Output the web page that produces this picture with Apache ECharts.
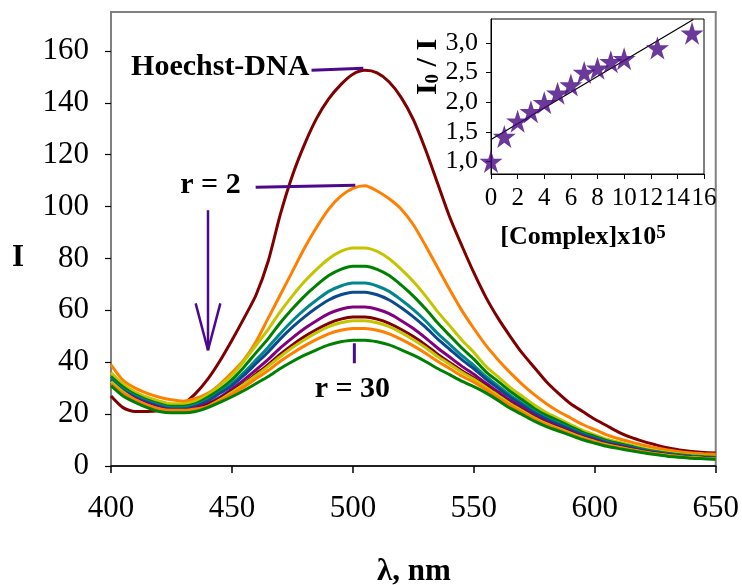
<!DOCTYPE html>
<html><head><meta charset="utf-8">
<script src="https://cdn.jsdelivr.net/npm/echarts@6/dist/echarts.min.js"></script>
<style>html,body{margin:0;padding:0;background:#fff}#c{width:742px;height:585px}</style>
</head><body><div id="c"></div>
<script>
const wavelength=[400,405,410,415,420,425,430,435,440,445,450,455,460,465,470,475,480,485,490,495,500,505,510,515,520,525,530,535,540,545,550,555,560,565,570,575,580,585,590,595,600,605,610,615,620,625,630,635,640,645,650];
const hoechstDNA=[27,22.5,21,21,21.3,22,24,28,33.5,40.5,48.5,57,66,79,97,112,124,134,141.5,147,151,152.5,151.5,148,142,133.5,122,109,96,85,74.5,65,57,50,43.5,38,32.5,28,24,21,18,15.5,13,11,9.5,8.2,7,6.2,5.6,5.2,5];
const r2Orange=[39,33,30,28,26.5,25.5,25,26,28,31.5,36,41,48,57,66,75,84,92,99,104,107,108,106,103,99,93,85,76.5,68,60,53,46.5,41,36,31.5,27.5,24,21,18.5,16,14,12,10.5,9.2,8,7,6.2,5.5,5,4.7,4.5];
const yellow1=[36,31.5,28.5,26.5,25,24,24,25,27.5,31,35,40.4,46.6,52.7,59.5,65.6,71.1,75.8,79.9,82.7,84,84,82.7,79.9,75.8,71.1,65.6,59.5,54.1,48.6,43.8,38.4,34.4,30.3,26.9,23.5,20.6,18.3,16,13.7,12,10.3,9.2,8,6.9,6,5.2,4.6,4.1,3.8,3.5];
const green1=[34.5,30.5,27.5,25.5,24,23,23,24,26.5,29.5,33.3,38.2,43.7,49.1,55.2,60.6,65.5,69.7,73.4,75.8,77,77,75.8,73.4,69.7,65.5,60.6,55.2,50.3,45.5,41.2,36.3,32.6,28.8,25.5,22.2,19.5,17.4,15.2,13,11.4,9.8,8.7,7.6,6.5,5.6,4.9,4.3,3.9,3.6,3.4];
const teal=[33.5,29.5,27,25,23.5,22.5,22.5,23.5,25.5,28.5,31.8,36.1,40.9,45.8,51.1,56,60.3,64,67.3,69.4,70.5,70.5,69.4,67.3,64,60.3,56,51.1,46.9,42.6,38.8,34.5,30.9,27.3,24.2,21.1,18.5,16.5,14.4,12.4,10.8,9.3,8.2,7.2,6.2,5.4,4.6,4.1,3.7,3.4,3.2];
const navy=[33,29,26.5,24.5,23,22,22,23,25,28,31,35,39.5,44,49,53.5,57.5,61,64,66,67,67,66,64,61,57.5,53.5,49,45,41,37.5,33.5,30,26.5,23.5,20.5,18,16,14,12,10.5,9,8,7,6,5.2,4.5,4,3.6,3.3,3.1];
const purple=[32,28.5,26,24,22.5,21.5,21.5,22.5,24,26.5,29.7,33.2,37.1,41.1,45.5,49.4,53,56,58.7,60.4,61.3,61.3,60.4,58.7,56,53,49.4,45.5,42,38.5,35.4,31.9,28.6,25.2,22.4,19.5,17.1,15.2,13.3,11.4,10,8.6,7.6,6.7,5.7,5,4.3,3.8,3.4,3.1,3];
const darkRed2=[31.5,28,25.5,23.5,22,21.5,21.5,22,23.5,26,28.8,31.9,35.5,39.1,43.1,46.7,49.9,52.6,55,56.6,57.4,57.4,56.6,55,52.6,49.9,46.7,43.1,39.9,36.7,33.9,30.8,27.5,24.3,21.6,18.8,16.5,14.7,12.9,11,9.6,8.3,7.3,6.4,5.5,4.8,4.1,3.7,3.3,3,2.8];
const yellow2=[32.5,28.5,25.5,23.5,22,21,21,21.5,23,25.5,28.4,31.5,34.9,38.4,42.2,45.7,48.7,51.4,53.7,55.2,56,56,55.2,53.7,51.4,48.7,45.7,42.2,39.2,36.1,33.4,30.4,27.2,24,21.3,18.6,16.3,14.5,12.7,10.9,9.5,8.2,7.2,6.3,5.4,4.7,4.1,3.6,3.3,3,2.8];
const orange2=[31.5,28,25.5,23.5,22,21.5,21.5,22,23,25,27.7,30.5,33.7,36.8,40.4,43.5,46.3,48.8,50.9,52.3,53,53,52.3,50.9,48.8,46.3,43.5,40.4,37.6,34.7,32.3,29.5,26.4,23.3,20.7,18.1,15.9,14.1,12.3,10.6,9.3,7.9,7,6.2,5.3,4.6,4,3.5,3.2,2.9,2.7];
const green2=[31,27,24.5,22.5,21,20.5,20.5,21,22.5,24.5,26.7,29.1,31.8,34.5,37.6,40.3,42.7,44.8,46.7,47.9,48.5,48.5,47.9,46.7,44.8,42.7,40.3,37.6,35.2,32.7,30.6,28.2,25.3,22.3,19.8,17.3,15.2,13.5,11.8,10.1,8.8,7.6,6.7,5.9,5.1,4.4,3.8,3.4,3,2.8,2.6];
const curveNames=['Hoechst-DNA','r=2','c3','c4','c5','c6','c7','c8','c9','c10','r=30'];
const curveColors=['#800000','#FF8000','#C4C400','#008000','#00868B','#0B4A8C','#800080','#800000','#C4C400','#FF8000','#008000'];
const curves=[hoechstDNA,r2Orange,yellow1,green1,teal,navy,purple,darkRed2,yellow2,orange2,green2];
const yTicks=[0,20,40,60,80,100,120,140,160];
// inset
const complexConc=[0,1,2,3,4,5,6,7,8,9,10,12.5,15.1];
const ratioI0I=[1.0,1.42,1.68,1.84,1.99,2.15,2.29,2.50,2.57,2.68,2.73,2.91,3.16];
const fitX=[0,15.2];
const fitY=[1.37,3.39];
const insetYTicks=[1,1.5,2,2.5,3];
// annotations (data coords of main plot)
const hoechstLine=[[482.9,152.5],[504.3,153.3]];
const r2Line=[[459.8,107.4],[501,108.2]];
const r30Line=[[500.6,47.3],[500.6,39.6]];
const arrowShaft=[[440.1,98.6],[440.1,44.6]];
const arrowHeadL=[[435,62.7],[440.1,44.6]];
const arrowHeadR=[[445.2,62.7],[440.1,44.6]];
const labelHoechst=[482.0,153.8];
const labelR2=[453.6,108.2];
const labelR30=[499.8,29.7];

const FONT='"Liberation Serif","Times New Roman",serif';
const chart=echarts.init(document.getElementById('c'),null,{renderer:'canvas'});
const series=curves.map((d,i)=>({
  type:'line',name:curveNames[i],xAxisIndex:0,yAxisIndex:0,showSymbol:false,smooth:0.25,
  data:wavelength.map((w,j)=>[w,d[j]]),
  lineStyle:{color:curveColors[i],width:3},itemStyle:{color:curveColors[i]},animation:false
}));
const star='path://M50,0 L61.2,34.5 L97.6,34.5 L68.2,55.9 L79.4,90.5 L50,69.1 L20.6,90.5 L31.8,55.9 L2.4,34.5 L38.8,34.5 Z';
series.push({type:'line',xAxisIndex:1,yAxisIndex:1,showSymbol:false,data:fitX.map((x,i)=>[x,fitY[i]]),
  lineStyle:{color:'#000',width:1.2},animation:false,z:3});
series.push({type:'scatter',xAxisIndex:1,yAxisIndex:1,symbol:star,symbolSize:23,
  data:complexConc.map((x,i)=>[x,ratioI0I[i]]),itemStyle:{color:'#45087F'},animation:false,z:4});

chart.setOption({
  animation:false,
  grid:[
    {left:111,right:24,top:12,bottom:119,show:true,borderColor:'#808080',borderWidth:2,backgroundColor:'transparent'},
    {left:491,right:38,top:19,bottom:411,show:true,borderColor:'#000',borderWidth:1,backgroundColor:'#fff'}
  ],
  xAxis:[
    {type:'value',gridIndex:0,min:400,max:650,interval:50,
     axisLine:{show:true,onZero:false,lineStyle:{color:'#000',width:1.5}},
     axisTick:{show:true,inside:false,length:7,lineStyle:{color:'#000',width:1.5}},
     axisLabel:{fontFamily:FONT,fontSize:31,color:'#000',margin:27},
     splitLine:{show:false}},
    {type:'value',gridIndex:1,min:0,max:16,interval:2,
     axisLine:{show:true,onZero:false,lineStyle:{color:'#000',width:1}},
     axisTick:{show:true,inside:false,length:5,lineStyle:{color:'#000',width:1}},
     axisLabel:{fontFamily:FONT,fontSize:25,color:'#000',margin:12},
     splitLine:{show:false}}
  ],
  yAxis:[
    {type:'value',gridIndex:0,min:0,max:175,
     axisLine:{show:true,onZero:false,lineStyle:{color:'#808080',width:2}},
     axisTick:{show:true,inside:false,length:6,customValues:yTicks,lineStyle:{color:'#000',width:1.2}},
     axisLabel:{fontFamily:FONT,fontSize:31,color:'#000',margin:22,customValues:yTicks},
     splitLine:{show:false}},
    {type:'value',gridIndex:1,min:0.79,max:3.4,
     axisLine:{show:true,onZero:false,lineStyle:{color:'#000',width:1}},
     axisTick:{show:true,inside:false,length:5,customValues:insetYTicks,lineStyle:{color:'#000',width:1}},
     axisLabel:{fontFamily:FONT,fontSize:26,color:'#000',margin:13,customValues:insetYTicks,
       formatter:v=>v.toFixed(1).replace('.',',')},
     splitLine:{show:false}}
  ],
  series:series
});

function px(p){return chart.convertToPixel({gridIndex:0},p);}
const ANN='#4B0A8A';
function seg(pts,w){const a=px(pts[0]),b=px(pts[1]);
  return {type:'line',shape:{x1:a[0],y1:a[1],x2:b[0],y2:b[1]},style:{stroke:ANN,lineWidth:w},z:100};}
const lh=px(labelHoechst),lr2=px(labelR2),lr30=px(labelR30);
chart.setOption({graphic:[
  seg(hoechstLine,3),seg(r2Line,3),seg(r30Line,3),seg(arrowShaft,2.5),seg(arrowHeadL,2.5),seg(arrowHeadR,2.5),
  {type:'text',x:lh[0],y:lh[1],z:100,style:{text:'Hoechst-DNA',font:'bold 30px '+FONT,fill:'#000',align:'right',verticalAlign:'middle'}},
  {type:'text',x:lr2[0],y:lr2[1],z:100,style:{text:'r = 2',font:'bold 30px '+FONT,fill:'#000',align:'right',verticalAlign:'middle'}},
  {type:'text',x:lr30[0],y:lr30[1],z:100,style:{text:'r = 30',font:'bold 30px '+FONT,fill:'#000',align:'center',verticalAlign:'middle'}},
  {type:'text',x:414,y:572,z:100,style:{text:'λ, nm',font:'bold 31px '+FONT,fill:'#000',align:'center',verticalAlign:'middle'}},
  {type:'text',x:18,y:258,z:100,style:{text:'I',font:'bold 31px '+FONT,fill:'#000',align:'center',verticalAlign:'middle'}},
  {type:'text',x:583,y:237,z:100,style:{text:'[Complex]x10{s|5}',font:'bold 26px '+FONT,fill:'#000',align:'center',verticalAlign:'middle',
     rich:{s:{fontFamily:FONT,fontWeight:'bold',fontSize:19,verticalAlign:'top',lineHeight:19}}}},
  {type:'text',x:428,y:67,rotation:Math.PI/2,z:100,style:{text:'I{s|0} / I',font:'bold 30px '+FONT,fill:'#000',align:'center',verticalAlign:'middle',
     rich:{s:{fontFamily:FONT,fontWeight:'bold',fontSize:19,verticalAlign:'bottom',lineHeight:19}}}}
]});
</script></body></html>
